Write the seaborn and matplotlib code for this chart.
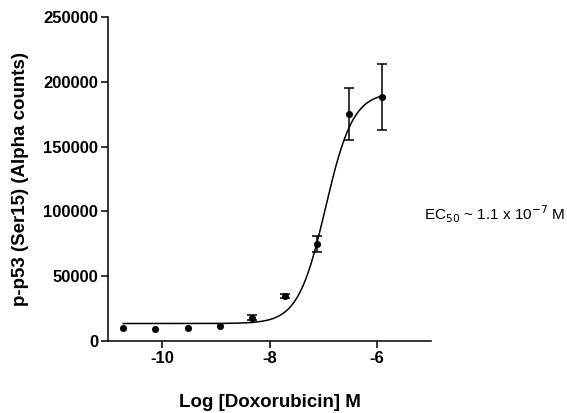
import numpy as np
import pandas as pd
import seaborn as sns
import matplotlib.pyplot as plt

# Dose-response data: log concentration, mean signal, SEM
log_dose = [-10.72, -10.12, -9.52, -8.92, -8.32, -7.72, -7.12, -6.52, -5.92]
signal = [10200, 9400, 10100, 11600, 18000, 34800, 75000, 175000, 188000]
sem = [0, 0, 0, 0, 2000, 1500, 6000, 20000, 25500]

# 4-parameter logistic fit parameters
bottom, top, log_ec50, hill = 13500, 192000, -6.96, 1.7

df = pd.DataFrame({"log_dose": log_dose, "signal": signal, "sem": sem})

sns.set_style("ticks")
plt.rcParams['font.family'] = ['Liberation Sans', 'DejaVu Sans']
plt.rcParams['text.color'] = 'black'
plt.rcParams['axes.labelcolor'] = 'black'
plt.rcParams['xtick.color'] = 'black'
plt.rcParams['ytick.color'] = 'black'

fig = plt.figure(figsize=(5.67, 4.13), dpi=100)
ax = fig.add_axes([0.1905, 0.1743, 0.5697, 0.7845])

# Fitted curve
xs = np.linspace(min(log_dose), max(log_dose), 300)
ys = bottom + (top - bottom) / (1 + 10 ** ((log_ec50 - xs) * hill))
sns.lineplot(x=xs, y=ys, ax=ax, color='black', linewidth=1.1)

# Error bars only where SEM is visible
eb = df[df['sem'] > 0]
ax.errorbar(eb['log_dose'], eb['signal'], yerr=eb['sem'], fmt='none',
            ecolor='black', elinewidth=1.1, capsize=3.5, capthick=1.1)
sns.scatterplot(data=df, x='log_dose', y='signal', ax=ax, color='black',
                s=26, edgecolor='black', linewidth=0, zorder=3)

ax.set_xlim(-11, -5)
ax.set_ylim(0, 250000)
ax.set_xticks([-10, -8, -6])
ax.set_yticks([0, 50000, 100000, 150000, 200000, 250000])
ax.set_xticklabels(['-10', '-8', '-6'], fontweight='bold', fontsize=12)
ax.set_yticklabels(['0', '50000', '100000', '150000', '200000', '250000'],
                   fontweight='bold', fontsize=12)
ax.tick_params(direction='out', length=5, width=1.1, color='black', pad=2)
for s in ['left', 'bottom']:
    ax.spines[s].set_linewidth(1.1)
    ax.spines[s].set_color('black')
sns.despine(ax=ax)

ax.set_xlabel('Log [Doxorubicin] M', fontweight='bold', fontsize=13.5, labelpad=20)
ax.set_ylabel('p-p53 (Ser15) (Alpha counts)', fontweight='bold', fontsize=13.5, labelpad=10)

fig.text(0.748, 0.48, r'EC$_{50}$ ~ 1.1 x 10$^{-7}$ M', fontsize=11,
         ha='left', va='center')

fig.savefig('out.png', dpi=100)
